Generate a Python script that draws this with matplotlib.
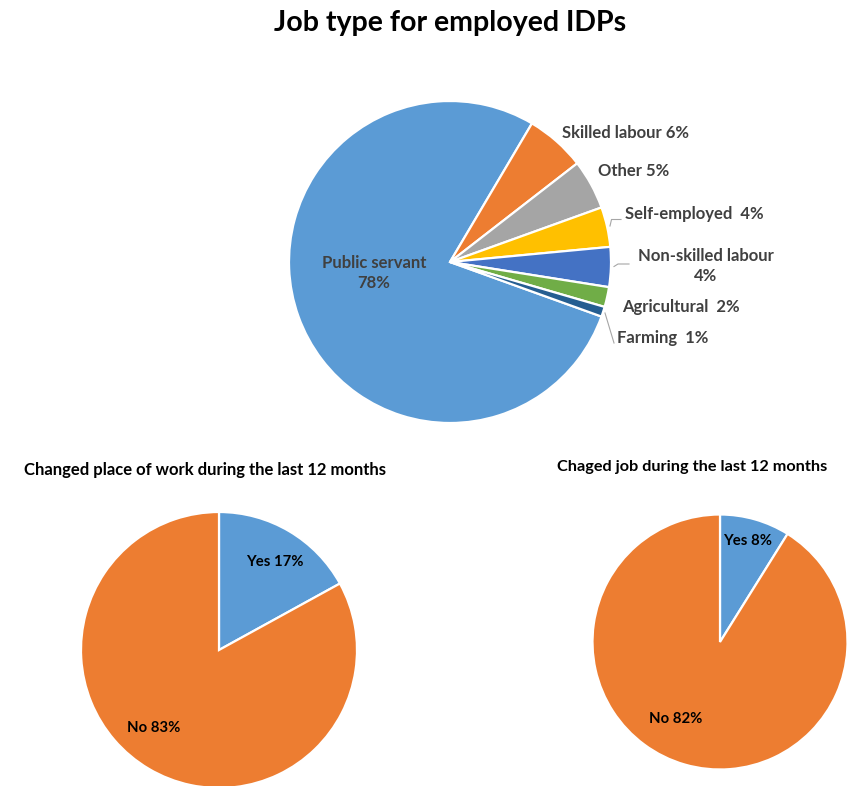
import matplotlib
matplotlib.use("Agg")
import matplotlib.pyplot as plt

plt.rcParams['font.family'] = ['Lato', 'DejaVu Sans']
plt.rcParams['font.weight'] = 'bold'

# job type shares (%)
job_types = ['Public servant', 'Skilled labour', 'Other', 'Self-employed',
             'Non-skilled labour', 'Agricultural', 'Farming']
job_share = [78, 6, 5, 4, 4, 2, 1]
job_colors = ['#5B9BD5', '#ED7D31', '#A5A5A5', '#FFC000',
              '#4472C4', '#70AD47', '#255E91']

# changed place of work / changed job (%)
answers = ['Yes', 'No']
place_share = [17, 83]
job_change_share = [8, 82]
answer_colors = ['#5B9BD5', '#ED7D31']

W, H = 854, 786
fig = plt.figure(figsize=(W / 100, H / 100), dpi=100)
ax = fig.add_axes([0, 0, 1, 1])


def px(x, y):
    # pixel position (top-left origin) -> data position
    return x, H - y


wedge_kw = dict(edgecolor='white', linewidth=1.6)

ax.pie(job_share, colors=job_colors, startangle=-19.8, counterclock=False,
       center=px(450, 262), radius=161, wedgeprops=wedge_kw)
ax.pie(place_share, colors=answer_colors, startangle=90, counterclock=False,
       center=px(219, 650), radius=138, wedgeprops=wedge_kw)
ax.pie(job_change_share, colors=answer_colors, startangle=90, counterclock=False,
       center=px(720, 642), radius=127.5, wedgeprops=wedge_kw)

ax.set_xlim(0, W)
ax.set_ylim(0, H)
ax.set_aspect('equal')
ax.axis('off')

grey = '#404040'
lab = dict(fontsize=12, color=grey, ha='center', va='center')

ax.text(*px(374, 273), f'{job_types[0]}\n{job_share[0]}%', linespacing=1.38, **lab)
ax.text(*px(625.5, 133), f'{job_types[1]} {job_share[1]}%', **lab)
ax.text(*px(633.5, 171), f'{job_types[2]} {job_share[2]}%', **lab)
ax.text(*px(694, 214), f'{job_types[3]}  {job_share[3]}%', **lab)
ax.text(*px(705.5, 266), f'{job_types[4]}\n{job_share[4]}%', linespacing=1.38, **lab)
ax.text(*px(681, 307), f'{job_types[5]}  {job_share[5]}%', **lab)
ax.text(*px(663, 338.5), f'{job_types[6]}  {job_share[6]}%', **lab)

# leader lines
line_kw = dict(color='#A6A6A6', linewidth=0.8)
for pts in ([(610, 226), (611.5, 219.5), (621, 219.5)],
            [(614, 266.5), (618, 264), (629, 264)],
            [(605, 313), (614, 343)]):
    xs, ys = zip(*[px(*p) for p in pts])
    ax.plot(xs, ys, **line_kw)

small = dict(fontsize=10.7, color='black', ha='center', va='center')
ax.text(*px(275, 562), f'{answers[0]} {place_share[0]}%', **small)
ax.text(*px(154, 728), f'{answers[1]} {place_share[1]}%', **small)
ax.text(*px(748, 541), f'{answers[0]} {job_change_share[0]}%', **small)
ax.text(*px(676, 719), f'{answers[1]} {job_change_share[1]}%', **small)

ax.text(*px(450, 23), 'Job type for employed IDPs', fontsize=20.5,
        color='black', ha='center', va='center')
ax.text(*px(205, 470), 'Changed place of work during the last 12 months',
        fontsize=12, color='black', ha='center', va='center')
ax.text(*px(692, 467), 'Chaged job during the last 12 months',
        fontsize=11.7, color='black', ha='center', va='center')

fig.savefig('out.png', dpi=100, facecolor='white')
